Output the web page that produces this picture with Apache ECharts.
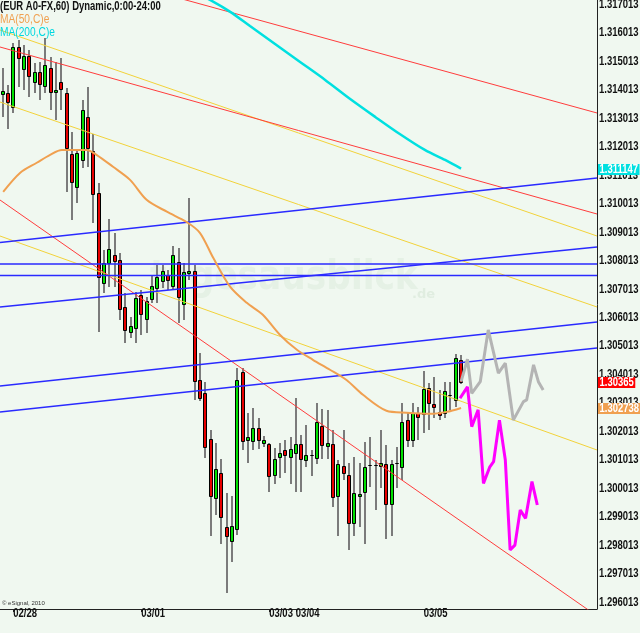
<!DOCTYPE html>
<html><head><meta charset="utf-8">
<script src="https://cdn.jsdelivr.net/npm/echarts@6/dist/echarts.min.js"></script>
<style>html,body{margin:0;padding:0;background:#f0f8f0}#c{width:640px;height:633px}</style>
</head><body><div id="c"></div><script>
const FONT = '"Liberation Sans",Arial,sans-serif';

// x-axis date labels: [slot index, text]
const dateTicks = [[2,'02/28'],[26,'03/01'],[50,'03/03'],[55,'03/04'],[79,'03/05']];
const slotCount = 112;

// hourly candles: [open, close, low, high]
const candles = [
[1.31377,1.31388,1.31296,1.31468],[1.31381,1.31349,1.31254,1.31409],[1.31331,1.31542,1.31310,1.31556],
[1.31542,1.31503,1.31402,1.31567],[1.31465,1.31511,1.31391,1.31549],[1.31511,1.31440,1.31366,1.31532],
[1.31419,1.31454,1.31381,1.31486],[1.31454,1.31412,1.31356,1.31489],[1.31405,1.31479,1.31381,1.31574],
[1.31468,1.31384,1.31321,1.31507],[1.31384,1.31391,1.31286,1.31489],[1.31419,1.31395,1.31321,1.31503],
[1.31381,1.31187,1.31033,1.31398],[1.31166,1.31068,1.30934,1.31244],[1.31050,1.31170,1.30994,1.31180],
[1.31145,1.31321,1.31117,1.31356],[1.31296,1.31187,1.31121,1.31402],[1.31177,1.31026,1.30924,1.31237],
[1.31029,1.30734,1.30541,1.31064],[1.30713,1.30783,1.30678,1.30829],[1.30783,1.30833,1.30699,1.30938],
[1.30812,1.30790,1.30699,1.30889],[1.30794,1.30622,1.30583,1.30819],[1.30629,1.30548,1.30502,1.30678],
[1.30541,1.30562,1.30520,1.30594],[1.30555,1.30660,1.30502,1.30682],[1.30671,1.30604,1.30531,1.30689],
[1.30587,1.30650,1.30538,1.30664],[1.30657,1.30703,1.30643,1.30741],[1.30696,1.30734,1.30643,1.30776],
[1.30720,1.30755,1.30696,1.30776],[1.30741,1.30724,1.30689,1.30759],[1.30703,1.30812,1.30689,1.30843],
[1.30787,1.30664,1.30573,1.30836],[1.30639,1.30752,1.30583,1.30783],[1.30748,1.30755,1.30724,1.31012],
[1.30755,1.30369,1.30302,1.30776],[1.30372,1.30309,1.30299,1.30467],[1.30327,1.30137,1.30098,1.30365],
[1.30165,1.29965,1.29824,1.30197],[1.29958,1.30060,1.29898,1.30151],[1.30046,1.29891,1.29796,1.30095],
[1.29856,1.29824,1.29624,1.29976],[1.29807,1.29860,1.29733,1.29965],[1.29849,1.30372,1.29828,1.30415],
[1.30401,1.30158,1.30127,1.30415],[1.30162,1.30172,1.30081,1.30257],[1.30158,1.30204,1.30127,1.30274],
[1.30204,1.30162,1.30130,1.30239],[1.30151,1.30162,1.30137,1.30176],[1.30148,1.30035,1.29979,1.30151],
[1.30039,1.30095,1.30007,1.30134],[1.30102,1.30116,1.30028,1.30151],[1.30127,1.30109,1.30046,1.30162],
[1.30102,1.30130,1.30007,1.30172],[1.30116,1.30148,1.29979,1.30309],[1.30148,1.30095,1.29979,1.30179],
[1.30091,1.30109,1.30067,1.30214],[1.30109,1.30109,1.30035,1.30127],[1.30098,1.30225,1.30077,1.30292],
[1.30211,1.30144,1.30095,1.30271],[1.30141,1.30151,1.30095,1.30267],[1.30148,1.29961,1.29926,1.30197],
[1.29965,1.30077,1.29824,1.30091],[1.30070,1.30046,1.30021,1.30197],[1.30039,1.29870,1.29775,1.30081],
[1.29870,1.29976,1.29824,1.30102],[1.29965,1.29972,1.29856,1.30081],[1.29979,1.30067,1.29796,1.30155],
[1.30074,1.30074,1.29997,1.30172],[1.30074,1.30074,1.29916,1.30091],[1.30070,1.30081,1.29993,1.30197],
[1.30077,1.29937,1.29814,1.30144],[1.29937,1.30077,1.29824,1.30091],[1.30081,1.30081,1.29993,1.30137],
[1.30067,1.30225,1.30021,1.30292],[1.30232,1.30162,1.30137,1.30260],[1.30162,1.30257,1.30137,1.30292],
[1.30257,1.30242,1.30162,1.30278],[1.30253,1.30341,1.30186,1.30404],[1.30344,1.30292,1.30197,1.30362],
[1.30288,1.30278,1.30239,1.30383],[1.30260,1.30250,1.30232,1.30337],[1.30257,1.30334,1.30239,1.30365],
[1.30320,1.30320,1.30267,1.30365],[1.30302,1.30450,1.30278,1.30464],[1.30443,1.30365,1.30358,1.30460]
];

// moving averages: [slot position, price]
const ma50 = [[0.1,1.31033],[3.3,1.31100],[6.4,1.31135],[8.9,1.31163],[11.1,1.31180],[15.8,1.31180],
[17.6,1.31163],[20.7,1.31121],[23.9,1.31075],[27.0,1.31005],[30.8,1.30963],[34.5,1.30927],[37.0,1.30889],
[39.5,1.30801],[42.7,1.30699],[45.8,1.30643],[48.8,1.30601],[52.0,1.30531],[55.2,1.30478],[58.2,1.30443],
[61.4,1.30408],[64.5,1.30372],[67.6,1.30320],[72.0,1.30264],[75.8,1.30257],[80.2,1.30253],[83.3,1.30260],[86,1.302738]];
const ma200 = [[34.8,1.31745],[38.9,1.31707],[42.7,1.31665],[46.4,1.31615],[51.1,1.31552],[55.8,1.31489],[60.5,1.31426],
[65.2,1.31359],[69.9,1.31296],[74.5,1.31236],[79.2,1.31180],[83.0,1.31145],[86,1.311147]];

// drawn trend lines: [[slot, price],[slot, price]]
const redLines = [
  [[30.0,1.317292],[111.5,1.313098]],
  [[-0.5,1.315416],[111.5,1.309550]],
  [[-0.5,1.310042],[111.5,1.295430]]
];
const yellowLines = [
  [[-0.5,1.316013],[111.5,1.308777]],
  [[-0.5,1.313484],[111.5,1.306284]],
  [[-0.5,1.308777],[111.5,1.301261]]
];
const blueLines = [
  [[-0.5,1.308549],[111.5,1.310815]],
  [[-0.5,1.307794],[111.5,1.307794]],
  [[-0.5,1.307390],[111.5,1.307390]],
  [[-0.5,1.306284],[111.5,1.308391]],
  [[-0.5,1.303509],[111.5,1.305757]],
  [[-0.5,1.302595],[111.5,1.304843]]
];

// projected paths
const forecastGray = [[86,1.30366],[87.2,1.30445],[88.0,1.30325],[89.6,1.30366],[91.1,1.30548],[93.0,1.30396],
[94.3,1.30431],[95.8,1.30231],[97.7,1.30296],[98.3,1.30302],[99.6,1.30425],[100.5,1.30366],[101.4,1.30337]];
const forecastMagenta = [[85.8,1.30308],[86.4,1.30325],[87.2,1.30348],[88.0,1.30208],[89.2,1.30267],[90.2,1.30009],
[91.4,1.30067],[92.1,1.30085],[93.2,1.30231],[94.3,1.30091],[95.2,1.29775],[96.1,1.29792],[97.1,1.29915],
[98.1,1.29886],[99.3,1.30015],[100.3,1.29933]];

// last-value tags on the price axis
const priceTags = [['1.311147',1.311147],['1.30365',1.30365],['1.302738',1.302738]];

// price axis
const yMin = 1.295676, yMax = 1.317067;
const tickBase = 1.296013, tickStep = 0.001, tickCount = 22;

const categories = Array.from({length: slotCount}, (_, i) => {
  const t = dateTicks.find(d => d[0] === i); return t ? t[1] : '';
});
const showIdx = (idx) => categories[idx] !== '';

function line(pts, color, width, z, smooth) {
  return {type:'line', xAxisIndex:1, yAxisIndex:0, data:pts, symbol:'none', silent:true, clip:true,
    smooth: smooth || false, lineStyle:{color, width}, z, animation:false};
}

const series = [];
series.push({
  type:'custom', xAxisIndex:0, yAxisIndex:0, z:2, silent:true, animation:false,
  data: candles.map((c, i) => [i, c[0], c[1], c[2], c[3]]),
  encode:{x:0, y:[1,2,3,4]},
  renderItem: function (params, api) {
    const i = api.value(0), o = api.value(1), c = api.value(2);
    const pO = api.coord([i, o]), pC = api.coord([i, c]);
    const pL = api.coord([i, api.value(3)]), pH = api.coord([i, api.value(4)]);
    const cx = Math.round(pO[0]);
    const top = Math.round(Math.min(pO[1], pC[1])), bot = Math.round(Math.max(pO[1], pC[1]));
    const fill = c === o ? '#000' : (c > o ? '#00e000' : '#e80000');
    return {type:'group', children:[
      {type:'rect', shape:{x:cx-1, y:Math.round(pH[1]), width:2, height:Math.round(pL[1]) - Math.round(pH[1])}, style:{fill:'#7b7b7b'}},
      {type:'rect', shape:{x:cx-1.5, y:top+0.5, width:3, height:Math.max(bot-top,0)}, style:{fill, stroke:'#000', lineWidth:1}}
    ]};
  }
});
yellowLines.forEach(l => series.push(line(l, '#f2d23a', 1, 3)));
redLines.forEach(l => series.push(line(l, '#ff3c3c', 1, 3)));
blueLines.forEach(l => series.push(line(l, '#2a2aff', 1.5, 4)));
series.push(line(ma200, '#00e0e0', 2.5, 5, 0.3));
series.push(line(ma50, '#f0a050', 2, 5, 0.3));
series.push(line(forecastGray, '#b4b4b4', 3, 6));
series.push(line(forecastMagenta, '#ff00ff', 3, 7));

const chart = echarts.init(document.getElementById('c'), null, {renderer:'canvas'});
chart.setOption({
  backgroundColor:'#f0f8f0',
  animation:false,
  grid:{left:0, right:43, top:0, bottom:24, containLabel:false, outerBoundsMode:'none'},
  xAxis:[
    {type:'category', data:categories, boundaryGap:true,
      axisLine:{show:true, lineStyle:{color:'#222', width:1}},
      axisTick:{show:true, alignWithLabel:true, interval:showIdx, length:3, lineStyle:{color:'#222'}},
      axisLabel:{show:false}, splitLine:{show:false}},
    {type:'value', min:-0.5, max:slotCount-0.5, show:false}
  ],
  yAxis:[
    {type:'value', min:yMin, max:yMax, position:'right',
      axisLine:{show:true, onZero:false, lineStyle:{color:'#222', width:1}},
      axisTick:{show:false}, axisLabel:{show:false}, splitLine:{show:false}}
  ],
  series
});

// text drawn in a condensed look (horizontal scale), positioned through the axes
const SX = 0.79;
const measureCtx = document.createElement('canvas').getContext('2d');
function textW(t, font) { measureCtx.font = font; return measureCtx.measureText(t).width; }
const boldFont = 'bold 12px ' + FONT;
const plotRight = chart.convertToPixel({xAxisIndex:1}, slotCount - 0.5);
const plotBottom = chart.convertToPixel({yAxisIndex:0}, yMin);
const g = [];
for (let k = 0; k < tickCount; k++) {
  const v = tickBase + k * tickStep;
  const y = chart.convertToPixel({yAxisIndex:0}, v);
  g.push({type:'text', x:plotRight + 2, y:y + 3, scaleX:SX, z:20, silent:true,
    style:{text:v.toFixed(6), font:boldFont, fill:'#111', verticalAlign:'middle', align:'left'}});
}
const tagColors = ['#00e0e0', '#ff0000', '#f0a050'];
priceTags.forEach((t, k) => {
  const y = chart.convertToPixel({yAxisIndex:0}, t[1]);
  const w = textW(t[0], boldFont) * SX + 3;
  g.push({type:'rect', z:21, silent:true, shape:{x:plotRight + 1, y:Math.round(y) - 5, width:w, height:11}, style:{fill:tagColors[k]}});
  g.push({type:'text', x:plotRight + 2.5, y:Math.round(y) + 0.5, scaleX:SX, z:22, silent:true,
    style:{text:t[0], font:boldFont, fill:'#fff', verticalAlign:'middle', align:'left'}});
});
dateTicks.forEach(d => {
  const x = chart.convertToPixel({xAxisIndex:0}, d[0]);
  g.push({type:'text', x:x, y:plotBottom + 5, scaleX:SX, z:20, silent:true,
    style:{text:d[1], font:boldFont, fill:'#111', verticalAlign:'middle', align:'left'}});
});
g.push(
  {type:'text', x:150, y:279, scaleX:0.86, z:0, silent:true,
    style:{text:'tagesausblick', font:'bold 40px "DejaVu Sans",sans-serif', fill:'rgba(170,200,170,0.15)', verticalAlign:'middle'}},
  {type:'text', x:412, y:295, z:0, silent:true,
    style:{text:'.de', font:'bold 13px "DejaVu Sans",sans-serif', fill:'rgba(170,200,170,0.22)', verticalAlign:'middle'}},
  {type:'text', x:0, y:7, scaleX:SX, z:20, silent:true,
    style:{text:'(EUR A0-FX,60) Dynamic,0:00-24:00', font:boldFont, fill:'#111', verticalAlign:'middle'}},
  {type:'text', x:0, y:20, scaleX:0.85, z:20, silent:true,
    style:{text:'MA(50,C)e', font:'12px ' + FONT, fill:'#f0a050', verticalAlign:'middle'}},
  {type:'text', x:0, y:33, scaleX:0.85, z:20, silent:true,
    style:{text:'MA(200,C)e', font:'12px ' + FONT, fill:'#00d8e0', verticalAlign:'middle'}},
  {type:'text', x:2, y:603, z:20, silent:true,
    style:{text:'© eSignal, 2010', font:'6px ' + FONT, fill:'#333', verticalAlign:'middle'}}
);
chart.setOption({graphic:g});
</script></body></html>
